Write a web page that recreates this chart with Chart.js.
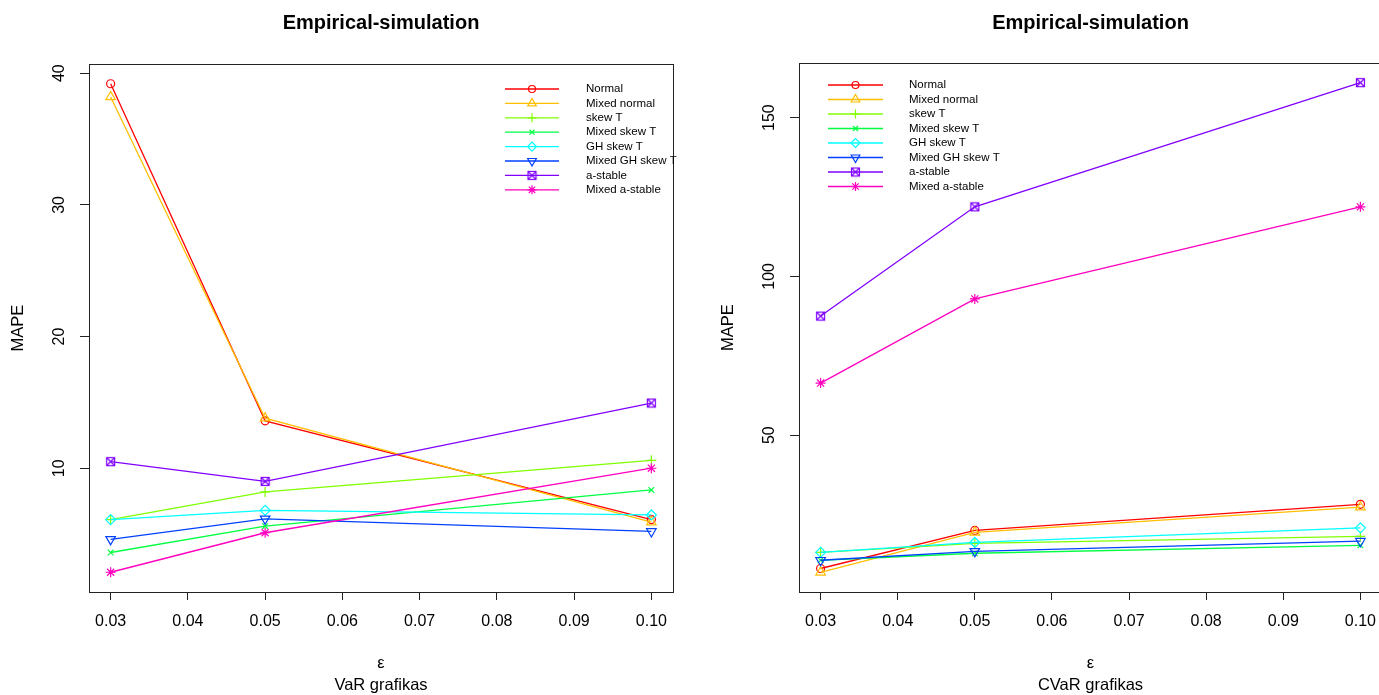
<!DOCTYPE html>
<html lang="en">
<head>
  <meta charset="UTF-8">
  <title>Empirical-simulation MAPE</title>
  <script src="https://cdn.jsdelivr.net/npm/chart.js"></script>
  <style>
    html, body { margin: 0; padding: 0; background: #fff; }
    body { width: 1379px; height: 695px; overflow: hidden; position: relative; }
    #varWrap { position: absolute; left: 0; top: 0; }
    #cvarWrap { position: absolute; left: 690px; top: 0; }
  </style>
</head>
<body>
  <div id="varWrap"><canvas id="varChart" width="690" height="695"></canvas></div>
  <div id="cvarWrap"><canvas id="cvarChart" width="700" height="695"></canvas></div>

  <script>
    // epsilon levels and axis ticks
    const eps = [0.03, 0.05, 0.10];
    const epsTicks = [0.03, 0.04, 0.05, 0.06, 0.07, 0.08, 0.09, 0.10];
    const varTicks = [10, 20, 30, 40];
    const cvarTicks = [50, 100, 150];

    const seriesNames = ['Normal', 'Mixed normal', 'skew T', 'Mixed skew T',
      'GH skew T', 'Mixed GH skew T', 'a-stable', 'Mixed a-stable'];
    const seriesColors = ['#FF0000', '#FFBF00', '#80FF00', '#00FF40',
      '#00FFFF', '#0040FF', '#8000FF', '#FF00BF'];

    // VaR MAPE (left panel)
    const varNormal = [39.2, 13.6, 6.1];
    const varMixedNormal = [38.2, 13.8, 5.9];
    const varSkewT = [6.1, 8.2, 10.6];
    const varMixedSkewT = [3.6, 5.6, 8.35];
    const varGHSkewT = [6.1, 6.8, 6.45];
    const varMixedGHSkewT = [4.6, 6.15, 5.2];
    const varStable = [10.5, 9.0, 14.95];
    const varMixedStable = [2.1, 5.1, 10.0];

    // CVaR MAPE (right panel)
    const cvarNormal = [8.0, 20.0, 28.2];
    const cvarMixedNormal = [6.8, 19.4, 27.3];
    const cvarSkewT = [13.1, 15.9, 18.1];
    const cvarMixedSkewT = [10.6, 12.8, 15.3];
    const cvarGHSkewT = [13.1, 16.2, 20.8];
    const cvarMixedGHSkewT = [10.6, 13.4, 16.6];
    const cvarStable = [87.5, 121.9, 161.0];
    const cvarMixedStable = [66.4, 92.9, 121.9];

    const FONT = '"Liberation Sans", Arial, sans-serif';

    // square with an x inside (R pch 7)
    function boxX(color) {
      const c = document.createElement('canvas');
      c.width = 11; c.height = 11;
      const g = c.getContext('2d');
      g.strokeStyle = color; g.lineWidth = 1.2;
      g.strokeRect(1.5, 1.5, 8, 8);
      g.beginPath();
      g.moveTo(1.5, 1.5); g.lineTo(9.5, 9.5);
      g.moveTo(9.5, 1.5); g.lineTo(1.5, 9.5);
      g.stroke();
      return c;
    }

    const markerStyles = ['circle', 'triangle', 'cross', 'crossRot', 'rectRot', 'triangle', boxX('#8000FF'), 'star'];
    const markerRadius = [4, 5.5, 5, 4, 5, 5.5, 5, 5];
    const markerRotation = [0, 0, 0, 0, 0, 180, 0, 0];

    // box, titles, rotated y labels and legend the way R draws them
    const rPlot = {
      id: 'rPlot',
      afterDraw(chart, args, opts) {
        const ctx = chart.ctx;
        const a = chart.chartArea;
        const cx = (a.left + a.right) / 2;
        ctx.save();
        ctx.strokeStyle = '#222';
        ctx.lineWidth = 1;
        ctx.strokeRect(Math.round(a.left) + 0.5, Math.round(a.top) + 0.5,
          Math.round(a.right - a.left), Math.round(a.bottom - a.top));

        ctx.fillStyle = '#000';
        ctx.textAlign = 'center';
        ctx.textBaseline = 'middle';
        ctx.font = 'bold 20px ' + FONT;
        ctx.fillText(opts.title, cx, 23);

        ctx.font = '16.5px ' + FONT;
        ctx.fillText('ε', cx, 663);
        ctx.fillText(opts.xTitle, cx, 685);

        // y tick labels, parallel to the axis
        const ys = chart.scales.y;
        ctx.font = '16px ' + FONT;
        ys.ticks.forEach(t => {
          ctx.save();
          ctx.translate(a.left - 29, ys.getPixelForValue(t.value));
          ctx.rotate(-Math.PI / 2);
          ctx.fillText(String(t.value), 0, 0);
          ctx.restore();
        });
        ctx.font = '16.5px ' + FONT;
        ctx.save();
        ctx.translate(a.left - 71, (a.top + a.bottom) / 2);
        ctx.rotate(-Math.PI / 2);
        ctx.fillText('MAPE', 0, 0);
        ctx.restore();

        // legend
        const lg = opts.legend;
        ctx.font = '11.5px ' + FONT;
        ctx.textAlign = 'left';
        chart.data.datasets.forEach((ds, i) => {
          const y = lg.y0 + i * lg.step;
          ctx.strokeStyle = ds.borderColor;
          ctx.lineWidth = 1.3;
          ctx.beginPath();
          ctx.moveTo(lg.x0, y); ctx.lineTo(lg.x1, y);
          ctx.stroke();
          ctx.fillStyle = 'rgba(0,0,0,0)';
          ctx.lineWidth = 1.2;
          Chart.helpers.drawPoint(ctx, {
            pointStyle: ds.pointStyle, radius: ds.pointRadius - 0.5,
            rotation: ds.pointRotation, borderWidth: 1.2
          }, (lg.x0 + lg.x1) / 2, y);
          ctx.fillStyle = '#000';
          ctx.fillText(ds.label, lg.tx, y);
        });
        ctx.restore();
      }
    };

    function makeChart(canvasId, values, yMin, yMax, yTicks, cfg) {
      return new Chart(document.getElementById(canvasId), {
        type: 'line',
        data: {
          datasets: values.map((vals, i) => ({
            label: seriesNames[i],
            data: eps.map((e, k) => ({ x: e, y: vals[k] })),
            borderColor: seriesColors[i],
            borderWidth: 1.3,
            fill: false,
            tension: 0,
            pointStyle: markerStyles[i],
            pointRadius: markerRadius[i],
            pointRotation: markerRotation[i],
            pointBorderColor: seriesColors[i],
            pointBackgroundColor: 'rgba(0,0,0,0)',
            pointBorderWidth: 1.2,
            order: values.length - i
          }))
        },
        options: {
          responsive: false,
          animation: false,
          devicePixelRatio: 1,
          layout: { padding: { top: cfg.top, right: cfg.right, left: 0, bottom: 0 } },
          plugins: {
            legend: { display: false },
            title: { display: false },
            tooltip: { enabled: false },
            rPlot: cfg
          },
          scales: {
            x: {
              type: 'linear',
              min: 0.0272,
              max: 0.1028,
              afterBuildTicks: s => { s.ticks = epsTicks.map(v => ({ value: v })); },
              afterFit: s => { s.height = 695 - cfg.bottom; },
              grid: { drawOnChartArea: false, drawTicks: true, tickLength: 8, color: '#222' },
              border: { display: false },
              ticks: {
                callback: v => v.toFixed(2),
                font: { family: FONT, size: 16 },
                color: '#000',
                padding: 12,
                maxRotation: 0,
                autoSkip: false
              }
            },
            y: {
              type: 'linear',
              min: yMin,
              max: yMax,
              afterBuildTicks: s => { s.ticks = yTicks.map(v => ({ value: v })); },
              afterFit: s => { s.width = cfg.left; },
              grid: { drawOnChartArea: false, drawTicks: true, tickLength: 9, color: '#222' },
              border: { display: false },
              ticks: { color: 'rgba(0,0,0,0)', font: { family: FONT, size: 16 } }
            }
          }
        },
        plugins: [rPlot]
      });
    }

    makeChart('varChart',
      [varNormal, varMixedNormal, varSkewT, varMixedSkewT, varGHSkewT, varMixedGHSkewT, varStable, varMixedStable],
      0.6, 40.7, varTicks,
      {
        title: 'Empirical-simulation', xTitle: 'VaR grafikas',
        top: 64, bottom: 592, left: 89, right: 17,
        legend: { x0: 505, x1: 559, tx: 586, y0: 89, step: 14.4 }
      });

    makeChart('cvarChart',
      [cvarNormal, cvarMixedNormal, cvarSkewT, cvarMixedSkewT, cvarGHSkewT, cvarMixedGHSkewT, cvarStable, cvarMixedStable],
      0.6, 167.2, cvarTicks,
      {
        title: 'Empirical-simulation', xTitle: 'CVaR grafikas',
        top: 63, bottom: 592, left: 109, right: 8,
        legend: { x0: 138, x1: 193, tx: 219, y0: 85, step: 14.5 }
      });
  </script>
</body>
</html>
